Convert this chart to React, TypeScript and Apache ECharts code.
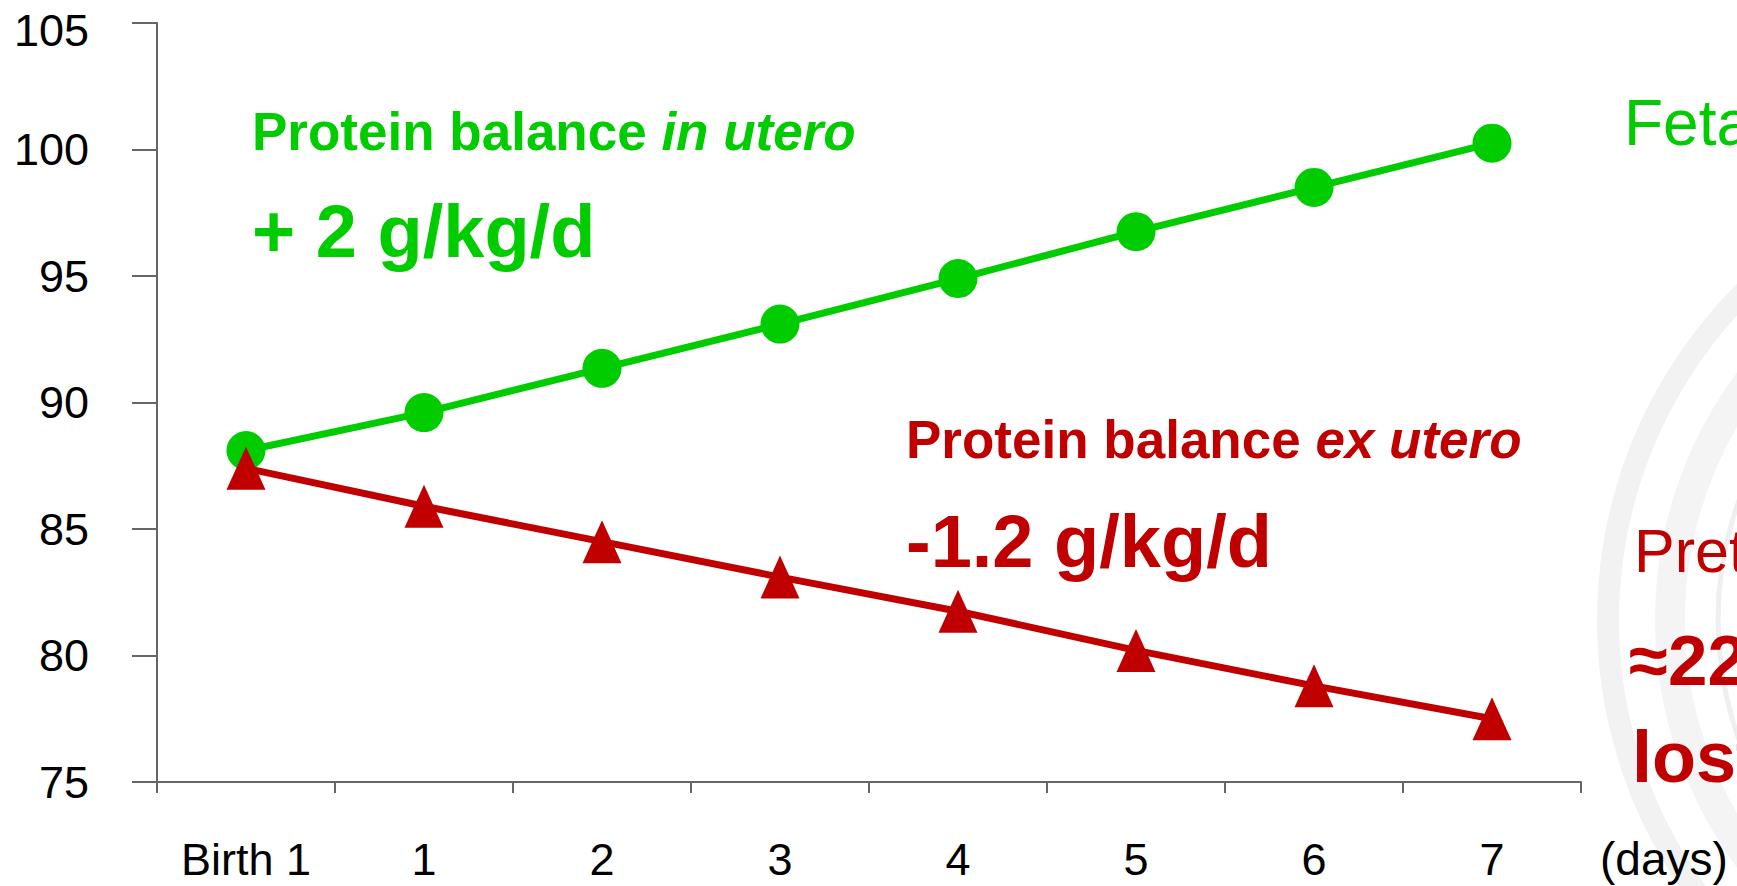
import React, { useEffect, useRef } from "react";
import * as echarts from "echarts";

const categories = ["Birth 1", "1", "2", "3", "4", "5", "6", "7"];
const inUteroValues = [88.1, 89.6, 91.35, 93.1, 94.9, 96.75, 98.5, 100.25];
const exUteroValues = [87.4, 85.9, 84.5, 83.1, 81.75, 80.2, 78.8, 77.5];
const yTicks = { min: 75, max: 105, interval: 5 };

const GREEN = "#00CC00";
const RED = "#C00000";
const FONT = '"Liberation Sans", Arial, Helvetica, sans-serif';

export default function App() {
  const ref = useRef<HTMLDivElement>(null);
  useEffect(() => {
    document.body.style.margin = "0";
    if (!ref.current) return;
    const chart = echarts.init(ref.current, null, { renderer: "svg" });
    const txt = (
      x: number,
      baseline: number,
      text: string,
      size: number,
      color: string,
      weight: string,
      style: string = "normal",
      z = 10
    ) => ({
      type: "text",
      x,
      y: baseline - 0.3465 * size,
      z,
      silent: true,
      style: {
        text,
        fill: color,
        fontSize: size,
        fontWeight: weight,
        fontStyle: style,
        fontFamily: FONT,
        align: "left",
        verticalAlign: "middle",
      },
    });
    const TS = 53;
    const richTitle = (x: number, baseline: number, a: string, b: string, color: string) => ({
      type: "text",
      x,
      y: baseline - 0.3465 * TS,
      z: 10,
      silent: true,
      style: {
        text: `{n|${a}}{i|${b}}`,
        align: "left",
        verticalAlign: "middle",
        rich: {
          n: { fontSize: TS, fontWeight: "bold", fontFamily: FONT, fill: color, color },
          i: { fontSize: TS, fontWeight: "bold", fontStyle: "italic", fontFamily: FONT, fill: color, color },
        },
      },
    });
    chart.setOption({
      animation: false,
      backgroundColor: "#ffffff",
      grid: {
        left: 157,
        right: 156,
        top: 23,
        bottom: 104,
        containLabel: false,
        outerBoundsMode: "none",
      },
      xAxis: {
        type: "category",
        data: categories,
        boundaryGap: true,
        axisLine: { show: true, lineStyle: { color: "#666666", width: 2 } },
        axisTick: { show: true, length: 11, lineStyle: { color: "#666666", width: 2 } },
        axisLabel: { color: "#000", fontSize: 45, fontFamily: FONT, margin: 55 },
        splitLine: { show: false },
      },
      yAxis: {
        type: "value",
        min: yTicks.min,
        max: yTicks.max,
        interval: yTicks.interval,
        axisLine: { show: true, lineStyle: { color: "#666666", width: 2 } },
        axisTick: { show: true, length: 25, lineStyle: { color: "#666666", width: 2 } },
        axisLabel: {
          color: "#000",
          fontSize: 45,
          lineHeight: 34,
          fontFamily: FONT,
          margin: 68,
          formatter: (v: number) => (v === yTicks.max ? `{top|${v}}` : `${v}`),
          rich: {
            top: { fontSize: 45, lineHeight: 34, fontFamily: FONT, color: "#000", padding: [14, 0, 0, 0] },
          },
        },
        splitLine: { show: false },
      },
      series: [
        {
          name: "in utero",
          type: "line",
          data: inUteroValues,
          symbol: "circle",
          symbolSize: 39,
          lineStyle: { color: GREEN, width: 7 },
          itemStyle: { color: GREEN },
          z: 3,
        },
        {
          name: "ex utero",
          type: "line",
          data: exUteroValues,
          symbol: "triangle",
          symbolSize: [39, 43],
          lineStyle: { color: RED, width: 7 },
          itemStyle: { color: RED },
          z: 4,
        },
      ],
      graphic: [
        {
          type: "circle",
          z: -10,
          silent: true,
          shape: { cx: 2070, cy: 620, r: 462 },
          style: { fill: "none", stroke: "#f2f2f2", lineWidth: 22 },
        },
        {
          type: "circle",
          z: -10,
          silent: true,
          shape: { cx: 2070, cy: 620, r: 400 },
          style: { fill: "none", stroke: "#f4f4f4", lineWidth: 30 },
        },
        {
          type: "circle",
          z: -10,
          silent: true,
          shape: { cx: 2070, cy: 620, r: 352 },
          style: { fill: "none", stroke: "#efefef", lineWidth: 5 },
        },
        richTitle(252, 150, "Protein balance ", "in utero", GREEN),
        txt(252, 257, "+ 2 g/kg/d", 74, GREEN, "bold"),
        richTitle(906, 458, "Protein balance ", "ex utero", RED),
        txt(906, 567, "-1.2 g/kg/d", 74, RED, "bold"),
        txt(1624, 145, "Fetal", 64, GREEN, "normal"),
        txt(1634, 572, "Preterm", 61, RED, "normal"),
        txt(1629, 685, "≈22", 71, RED, "bold"),
        txt(1632, 782, "lost", 72, RED, "bold"),
        txt(1600, 875, "(days)", 46, "#000", "normal"),
      ],
    });
    return () => chart.dispose();
  }, []);
  return <div ref={ref} style={{ width: 1737, height: 886 }} />;
}
